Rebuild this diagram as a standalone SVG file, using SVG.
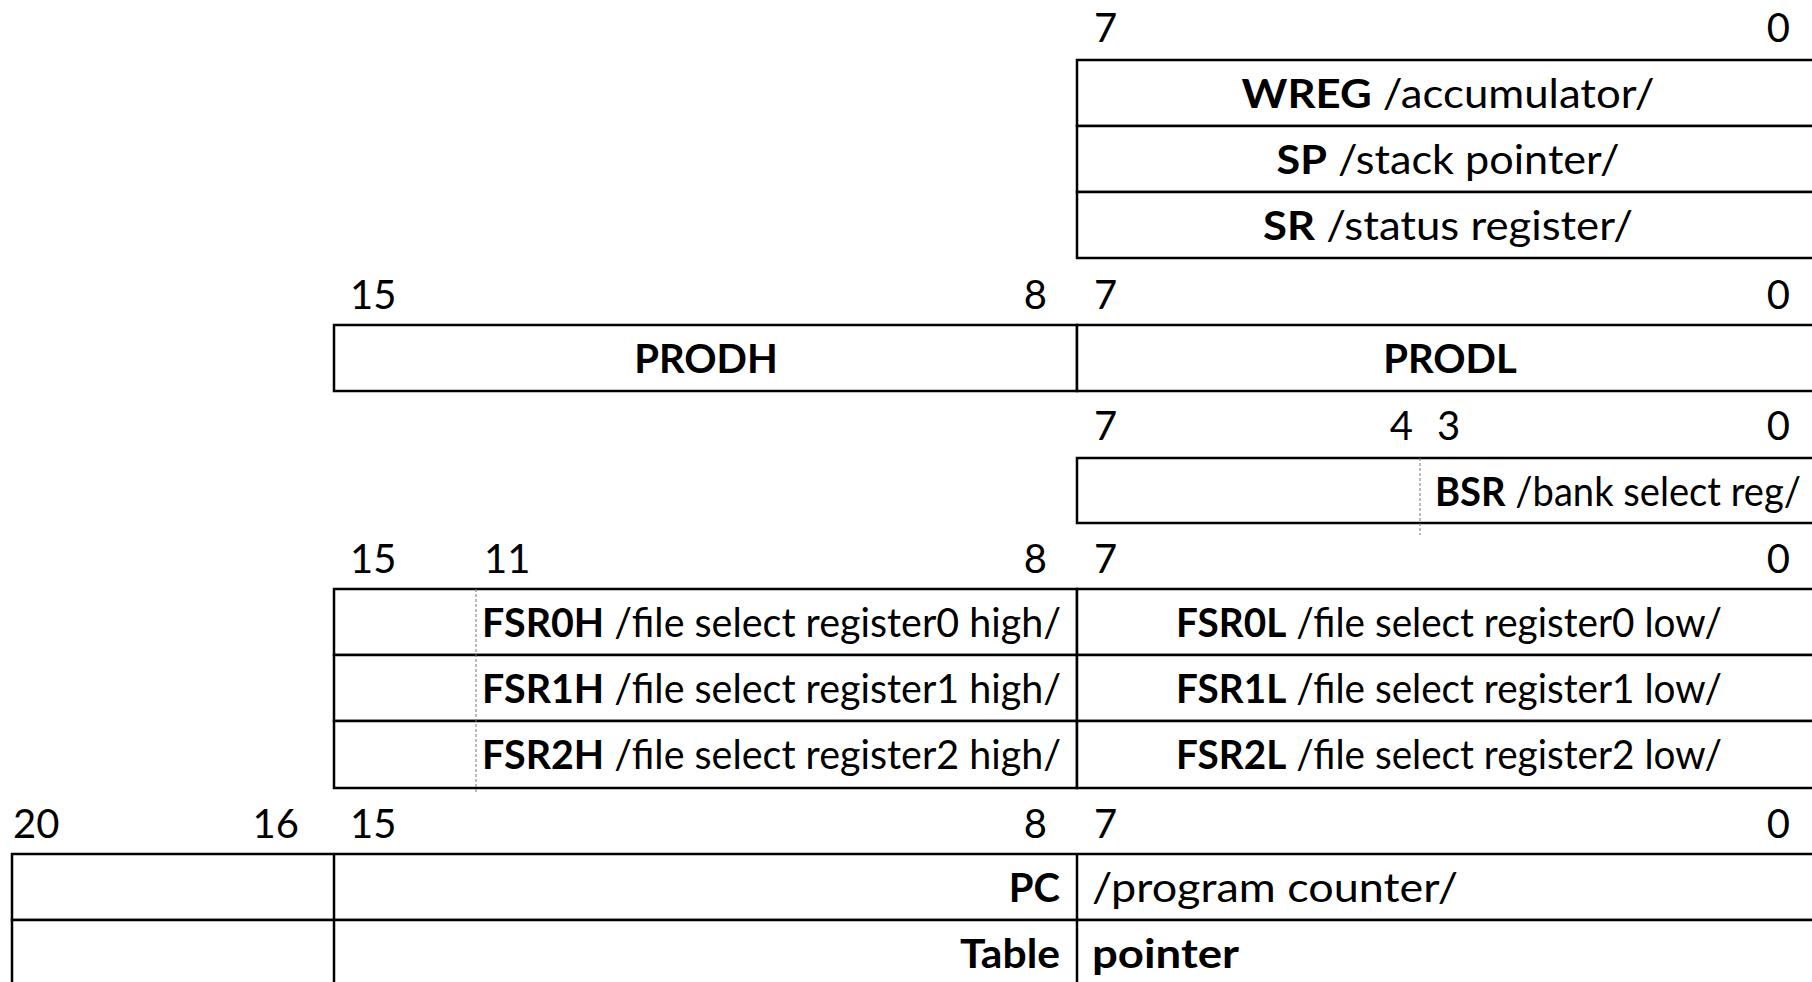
<svg xmlns="http://www.w3.org/2000/svg" width="1812" height="982" viewBox="0 0 1812 982">
<style>
text{font-family:Lato,"Open Sans","Liberation Sans",sans-serif;font-size:40px;fill:#000}
.b{font-weight:bold}
.e{text-anchor:end}
.m{text-anchor:middle}
.box{fill:#fff;stroke:#000;stroke-width:2.5}
.ln{stroke:#000;stroke-width:2.5}
.dot{stroke:#777;stroke-width:1;stroke-dasharray:3 2}
</style>
<rect width="1812" height="982" fill="#fff"/>
<g id="labels">
<text x="1094" y="42">7</text><text x="1790" y="42" class="e">0</text>
<text x="350" y="309">15</text><text x="1047" y="309" class="e">8</text><text x="1094" y="309">7</text><text x="1790" y="309" class="e">0</text>
<text x="1094" y="440">7</text><text x="1413" y="440" class="e">4</text><text x="1437" y="440">3</text><text x="1790" y="440" class="e">0</text>
<text x="350" y="573">15</text><text x="484" y="573">11</text><text x="1047" y="573" class="e">8</text><text x="1094" y="573">7</text><text x="1790" y="573" class="e">0</text>
<text x="13" y="838">20</text><text x="299" y="838" class="e">16</text><text x="350" y="838">15</text><text x="1047" y="838" class="e">8</text><text x="1094" y="838">7</text><text x="1790" y="838" class="e">0</text>
</g>
<g id="wreg">
<rect class="box" x="1077" y="60" width="760" height="66"/>
<text x="1448" y="108" class="m" textLength="413" lengthAdjust="spacingAndGlyphs"><tspan class="b">WREG</tspan> /accumulator/</text>
</g>
<g id="sp">
<rect class="box" x="1077" y="126" width="760" height="66"/>
<text x="1448" y="174" class="m" textLength="343" lengthAdjust="spacingAndGlyphs"><tspan class="b">SP</tspan> /stack pointer/</text>
</g>
<g id="sr">
<rect class="box" x="1077" y="192" width="760" height="66"/>
<text x="1448" y="240" class="m" textLength="370" lengthAdjust="spacingAndGlyphs"><tspan class="b">SR</tspan> /status register/</text>
</g>
<g id="prodh">
<rect class="box" x="334" y="325" width="743" height="66"/>
<text x="706" y="373" class="m b">PRODH</text>
</g>
<g id="prodl">
<rect class="box" x="1077" y="325" width="760" height="66"/>
<text x="1450" y="373" class="m b">PRODL</text>
</g>
<g id="bsr">
<rect class="box" x="1077" y="458" width="760" height="65"/>
<line class="dot" x1="1420" y1="458" x2="1420" y2="535"/>
<text x="1435" y="506" textLength="366" lengthAdjust="spacingAndGlyphs"><tspan class="b">BSR</tspan> /bank select reg/</text>
</g>
<g id="fsr0h">
<rect class="box" x="334" y="589" width="743" height="66"/>
<text x="482" y="637" textLength="579" lengthAdjust="spacingAndGlyphs"><tspan class="b">FSR0H</tspan> /file select register0 high/</text>
</g>
<g id="fsr1h">
<rect class="box" x="334" y="655" width="743" height="66"/>
<text x="482" y="703" textLength="579" lengthAdjust="spacingAndGlyphs"><tspan class="b">FSR1H</tspan> /file select register1 high/</text>
</g>
<g id="fsr2h">
<rect class="box" x="334" y="721" width="743" height="67"/>
<text x="482" y="769" textLength="579" lengthAdjust="spacingAndGlyphs"><tspan class="b">FSR2H</tspan> /file select register2 high/</text>
</g>
<line class="dot" x1="476" y1="589" x2="476" y2="793"/>
<g id="fsr0l">
<rect class="box" x="1077" y="589" width="760" height="66"/>
<text x="1449" y="637" class="m" textLength="546" lengthAdjust="spacingAndGlyphs"><tspan class="b">FSR0L</tspan> /file select register0 low/</text>
</g>
<g id="fsr1l">
<rect class="box" x="1077" y="655" width="760" height="66"/>
<text x="1449" y="703" class="m" textLength="546" lengthAdjust="spacingAndGlyphs"><tspan class="b">FSR1L</tspan> /file select register1 low/</text>
</g>
<g id="fsr2l">
<rect class="box" x="1077" y="721" width="760" height="67"/>
<text x="1449" y="769" class="m" textLength="546" lengthAdjust="spacingAndGlyphs"><tspan class="b">FSR2L</tspan> /file select register2 low/</text>
</g>
<g id="pc">
<rect class="box" x="12" y="854" width="1825" height="66"/>
<line class="ln" x1="334" y1="854" x2="334" y2="920"/>
<line class="ln" x1="1077" y1="854" x2="1077" y2="920"/>
<text x="1060" y="902" class="e b">PC</text>
<text x="1092" y="902" textLength="366" lengthAdjust="spacingAndGlyphs">/program counter/</text>
</g>
<g id="table">
<rect class="box" x="12" y="920" width="1825" height="66"/>
<line class="ln" x1="334" y1="920" x2="334" y2="986"/>
<line class="ln" x1="1077" y1="920" x2="1077" y2="986"/>
<text x="1060" y="968" class="e b" textLength="100" lengthAdjust="spacingAndGlyphs">Table</text>
<text x="1092" y="968" class="b" textLength="147" lengthAdjust="spacingAndGlyphs">pointer</text>
</g>
<g id="connectors"></g>
</svg>
